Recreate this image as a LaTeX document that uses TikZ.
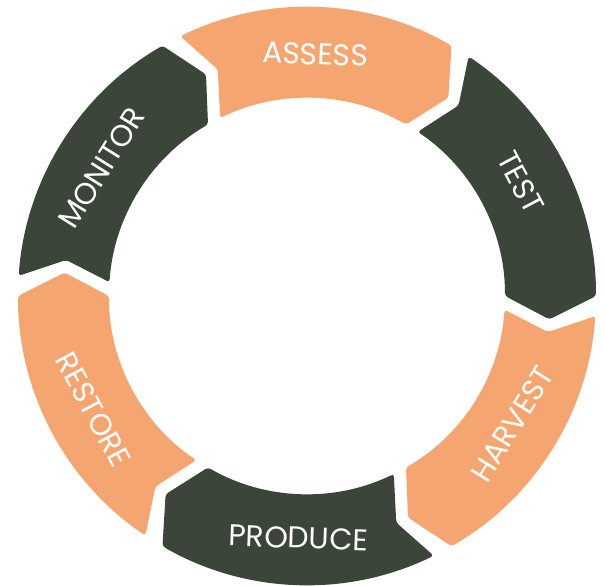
\documentclass[tikz,border=0pt]{standalone}
\usepackage{fontspec}
\setmainfont{Poppins}
\usepackage{xcolor}
\usepackage{tikz}
\usetikzlibrary{positioning,calc}

\definecolor{peach}{HTML}{F5A670}
\definecolor{forest}{HTML}{3B4539}

\begin{document}
\begin{tikzpicture}[x=1pt,y=1pt,
    segment/.style={rounded corners=3pt},
    label/.style={text=white, inner sep=0pt, font=\fontsize{30}{32}\selectfont}]
    % Canvas
    \fill[white] (-307,-290) rectangle (298,296);
    \useasboundingbox (-307,-290) rectangle (298,296);

    % Cycle steps, clockwise: start angle / colour / step / text rotation
    \foreach \a/\col/\txt/\rot in {118/peach/ASSESS/-2, 58/forest/TEST/-62,
        -2/peach/HARVEST/58, -62/forest/PRODUCE/-2,
        -122/peach/RESTORE/-62, 178/forest/MONITOR/58}{
        \fill[\col, segment] ({\a-2}:289) arc[start angle=\a-2, end angle=\a-58, radius=289]
            -- ({\a-63.5}:243.5) -- ({\a-58}:198)
            arc[start angle=\a-58, end angle=\a-2, radius=198]
            -- ({\a-6.5}:243.5) -- cycle;
        \node[label, rotate=\rot] (\txt) at ({\a-30}:242) {\txt};
    }
\end{tikzpicture}
\end{document}
